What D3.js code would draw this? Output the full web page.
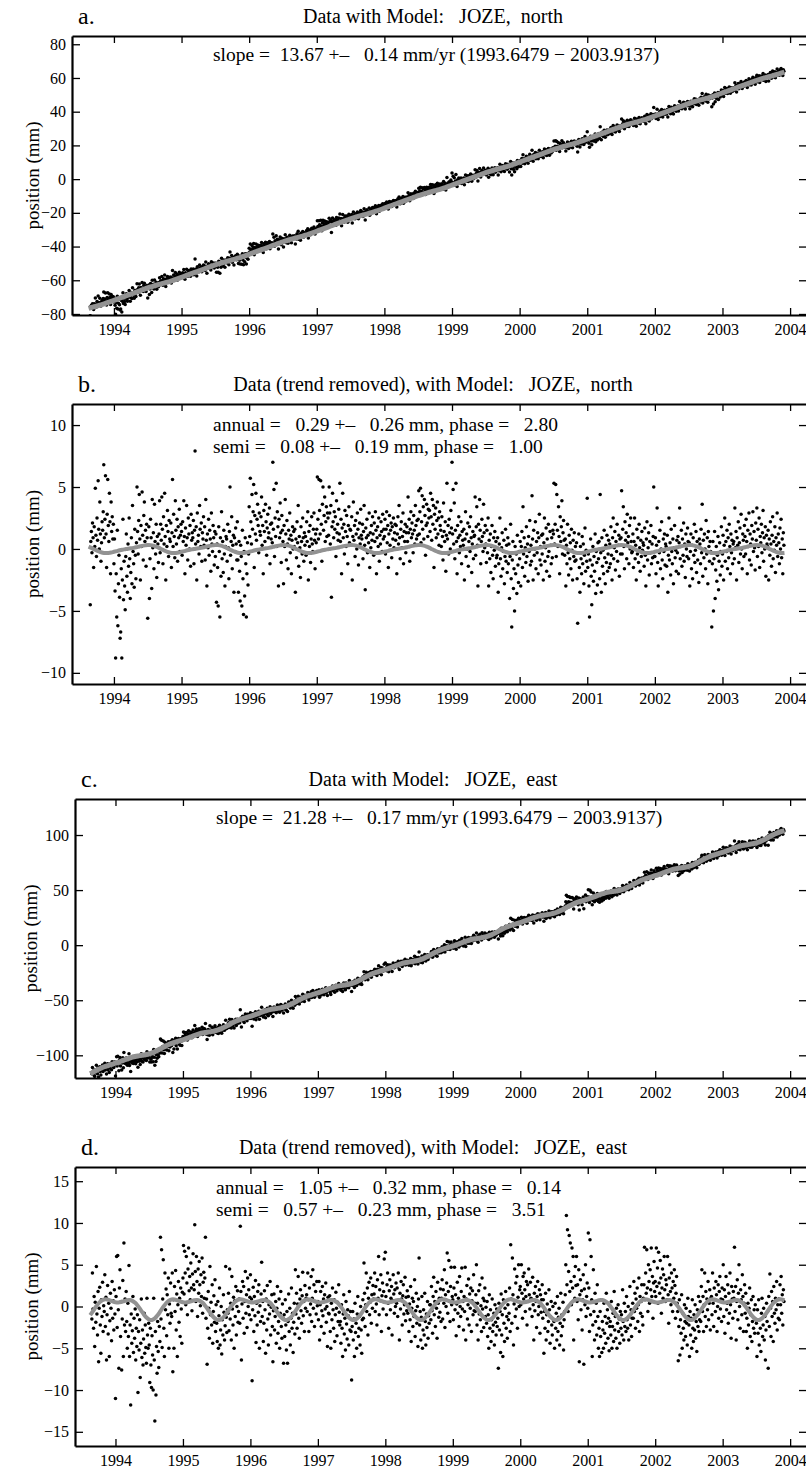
<!DOCTYPE html>
<html><head><meta charset="utf-8">
<script src="https://cdn.jsdelivr.net/npm/d3@7"></script>
<style>
body{margin:0;background:#fff}
svg{display:block}
text{font-family:"Liberation Serif","Times New Roman",Times,"DejaVu Serif",serif;fill:#000;white-space:pre}
</style>
</head><body>
<svg id="chart" width="806" height="1468"></svg>
<script>
// ---------------- DATA ----------------
const years = [1993,1994,1995,1996,1997,1998,1999,2000,2001,2002,2003];
const samplesPerYear = 120;          // residual samples ~3 days apart; first row ends at year end
const xTickYears = [1994,1995,1996,1997,1998,1999,2000,2001,2002,2003,2004];

// North residuals (mm), trend removed, one row per year
const northResid = [
 [-4.5,0.6,1.4,-0.3,2.1,0.9,-1.5,1.8,0.2,4.9,1.1,-0.6,2.5,0.7,5.5,1.6,0.0,3.8,1.2,-1.0,0.5,2.2,
  1.5,3.0,6.8,0.9,2.4,5.9,1.2,-1.5,2.8,5.6,1.9,0.6,4.5,2.2,-2.0,3.8,1.4,2.6,0.8,2.0],
 [-1.2,0.8,-3.4,-8.8,-2.0,-5.5,1.5,-6.2,-2.8,-0.5,-3.9,-7.2,-6.7,-1.6,-8.8,-2.5,2.4,-4.1,-1.0,-3.0,
  -4.9,-0.6,1.2,-2.2,-3.5,0.4,-1.4,2.5,-0.8,-4.0,-1.9,0.9,-2.8,3.5,-0.2,-1.2,-3.1,1.6,-0.5,-2.4,
  0.5,5.0,1.4,-0.4,2.3,4.4,0.8,-2.5,1.9,0.2,4.6,1.1,-0.9,2.7,3.8,0.6,1.5,-1.4,2.0,0.9,
  -5.6,0.3,1.8,-4.0,-0.8,2.4,0.9,-3.2,4.0,0.1,1.3,-1.6,3.6,0.6,-0.4,2.0,-2.3,1.0,0.4,-1.1,
  1.2,3.9,-0.3,2.0,0.7,4.2,1.6,-1.2,2.6,0.4,4.5,1.0,-2.5,1.9,0.2,3.1,1.4,-0.6,2.3,0.8,
  0.6,2.1,-1.5,1.3,5.6,0.2,2.8,1.0,-0.7,3.9,1.5,0.4,2.4,-1.0,1.8,0.9,3.2,-0.2,1.1,2.0],
 [1.4,-0.5,2.2,0.6,3.9,1.0,-2.0,1.7,0.3,3.5,0.9,-0.9,2.5,1.2,0.0,1.9,-1.4,2.8,0.7,1.3,
  0.9,2.3,-1.2,1.5,7.9,0.4,1.8,-2.5,2.9,0.6,1.1,-0.4,3.5,1.6,0.2,2.1,-1.0,1.3,0.8,2.6,
  0.3,1.8,-0.9,4.0,0.7,-3.0,1.2,0.1,2.4,-0.5,1.5,0.8,-1.8,2.9,0.4,-0.2,1.9,0.9,-1.3,1.4,
  -0.6,1.2,-4.3,0.4,-1.5,-4.6,1.8,-0.2,-5.5,0.9,-2.2,3.0,-0.8,0.6,-1.9,1.5,-0.4,-3.0,0.2,1.0,
  0.8,-1.0,2.0,0.1,-2.4,1.4,5.0,-0.5,0.6,2.6,-1.6,0.3,1.1,-3.5,0.9,-0.2,1.7,0.4,-0.9,2.2,
  -0.9,-3.5,0.6,-1.8,-4.2,0.3,-0.6,-4.6,1.5,-2.4,-5.3,-0.2,-3.8,0.9,-1.2,-5.5,-2.0,0.5,-2.9,-0.4],
 [3.4,1.0,5.7,2.2,0.4,4.4,1.6,3.0,5.2,-1.5,2.7,1.2,4.5,0.7,2.4,3.6,1.9,-0.3,2.9,1.4,
  1.1,2.6,4.2,0.3,1.9,-2.0,3.1,1.4,0.6,3.6,2.2,-0.5,1.7,2.8,0.9,1.3,3.3,-1.2,2.0,0.8,
  2.1,0.5,7.0,1.6,4.8,-0.6,2.5,1.0,5.3,0.2,3.0,1.8,-3.0,2.4,0.9,3.7,1.3,-1.1,2.7,1.5,
  0.6,-2.8,1.9,0.2,4.0,1.2,-0.9,2.3,0.4,-1.6,1.5,0.8,2.9,-0.3,1.1,-2.0,0.7,1.8,0.0,1.4,
  0.2,1.6,-3.5,0.8,-0.7,2.2,0.5,3.5,-1.4,1.0,0.1,-2.3,1.8,0.6,-0.4,2.5,0.9,-1.0,1.3,0.3,
  1.0,-0.5,2.2,0.6,3.0,-2.5,1.4,0.2,1.9,-1.1,0.8,2.6,0.4,-0.2,1.6,2.9,0.7,-1.6,1.2,0.5],
 [1.6,5.8,2.4,0.8,5.6,3.1,1.2,5.5,2.0,-1.0,3.6,5.0,1.5,2.7,4.2,0.6,2.2,3.4,1.0,2.9,
  2.5,1.1,5.0,2.9,0.4,3.5,-3.9,1.8,4.5,2.2,0.9,3.0,1.6,2.6,-0.6,3.9,1.3,2.0,0.7,3.2,
  1.2,5.3,0.6,2.4,-2.0,1.7,4.5,0.9,2.0,-0.4,3.1,1.4,0.2,2.7,1.0,-1.2,1.9,3.4,0.5,1.6,
  1.5,0.3,2.6,-2.5,1.0,3.8,0.7,1.9,-0.6,2.3,1.2,0.0,2.9,1.6,-1.3,0.9,2.1,0.4,3.2,1.1,
  0.8,2.0,-0.8,1.4,3.5,0.3,-3.3,1.7,0.9,2.4,-0.3,1.1,0.5,2.9,-1.5,1.3,0.1,1.9,0.7,2.6,
  1.2,-0.5,2.1,0.6,3.0,1.5,-2.0,0.9,1.8,0.2,2.5,-1.0,1.1,0.4,2.2,1.4,-0.2,2.8,0.8,1.6],
 [1.0,2.4,-0.4,1.6,3.0,0.5,1.9,-1.5,1.2,2.7,0.3,1.5,2.1,-0.7,1.8,0.8,2.5,0.1,1.3,2.0,
  0.7,1.9,-2.0,1.2,2.6,0.4,3.5,0.9,-0.8,1.6,2.2,0.1,1.0,2.9,-1.2,1.4,0.6,2.0,-0.3,1.3,
  1.8,0.6,4.2,1.3,2.4,-1.0,1.6,3.0,0.9,2.1,1.2,-0.3,2.7,1.5,0.4,3.5,1.9,0.8,2.3,1.1,
  2.4,4.7,1.2,3.0,4.9,0.5,2.2,4.3,1.6,3.4,0.8,4.0,2.7,-0.5,1.9,3.6,2.1,1.0,3.2,2.5,
  3.1,1.4,4.5,2.6,0.7,4.0,2.0,3.5,-1.5,2.8,1.6,3.3,0.9,2.3,3.8,1.2,2.5,0.3,3.0,1.9,
  1.5,0.2,2.6,1.0,-0.9,3.7,1.4,0.6,2.2,-1.8,1.1,5.3,0.8,1.9,-0.4,2.4,1.3,0.0,3.1,1.7],
 [7.0,1.2,4.8,0.4,3.7,-0.8,1.5,5.3,0.6,-2.0,1.9,0.9,2.6,-0.3,1.1,0.2,2.2,-1.2,1.4,0.7,
  0.3,1.6,-2.5,0.8,3.0,-0.6,1.2,0.0,2.1,-1.4,0.6,1.8,-0.2,2.6,0.9,-1.9,0.4,1.4,-0.8,1.0,
  1.1,4.2,-0.5,1.8,3.4,0.3,-3.0,2.0,0.8,4.0,1.5,-1.2,0.6,2.4,1.0,-0.2,3.6,1.3,0.1,1.9,
  0.4,-1.1,1.5,-0.3,2.5,-3.0,0.7,-0.8,1.2,-1.9,0.2,1.9,-0.5,-2.4,0.9,-0.1,1.4,-1.4,0.6,-0.7,
  -0.5,0.9,-3.5,-1.2,0.4,2.5,-0.8,-2.2,0.1,1.3,-1.6,-0.2,0.7,-2.8,-0.6,1.6,-1.0,0.3,-1.9,0.9,
  -1.2,0.4,-4.0,-0.6,2.0,-2.4,-6.3,-0.9,0.6,-3.2,-1.6,-5.0,0.2,-2.0,-0.4,-3.6,1.1,-1.3,-2.7,-0.2],
 [-0.8,0.6,-3.0,0.2,1.4,-1.5,3.4,-0.4,0.9,-2.2,0.1,-1.1,1.8,-0.6,0.4,-2.6,1.0,-0.2,2.3,-1.3,
  0.3,-1.0,4.3,0.8,-2.5,1.5,-0.5,0.0,2.2,-1.6,0.6,-0.3,1.3,-2.0,0.9,2.8,-0.9,0.2,-1.3,1.1,
  -0.4,1.2,-2.5,0.5,2.5,-1.0,0.1,1.7,-1.8,0.8,-0.6,2.0,-0.2,-2.2,1.4,0.3,-1.2,0.9,-0.7,1.5,
  1.2,5.3,0.4,2.0,5.2,-0.6,4.4,1.5,0.2,3.4,1.0,-2.0,2.6,0.6,1.8,3.9,-0.4,1.3,2.3,0.7,
  -0.5,0.8,-3.0,0.3,-1.2,2.0,-0.3,-2.1,1.1,-0.8,0.5,-1.6,1.6,-0.1,-2.5,0.7,-0.6,1.3,-1.0,0.2,
  -0.9,0.5,-2.4,-6.0,-0.3,1.2,-1.5,-3.5,0.2,-0.8,-2.0,1.0,-1.2,0.4,-2.8,-0.5,1.7,-1.8,-0.1,-1.0],
 [4.1,-1.5,-0.4,-3.0,-5.5,-0.9,0.8,-2.2,-4.5,-1.3,0.2,-2.6,-0.6,-1.8,1.2,-3.6,-0.2,-1.1,-2.9,0.5,
  -0.8,0.6,-2.4,4.4,-0.3,-3.5,0.9,-1.4,-0.1,-2.0,1.5,-0.7,-2.8,0.3,-1.1,1.1,-1.8,-0.4,0.7,-1.5,
  0.4,-1.2,1.8,-0.5,-2.5,0.9,2.5,-0.8,0.1,1.4,-1.7,0.6,-0.2,2.0,-1.0,0.3,1.1,-2.2,0.8,-0.4,
  0.9,4.7,-0.4,1.6,3.4,0.2,-1.6,2.2,0.7,1.3,-0.8,2.8,0.5,1.0,-1.2,1.9,0.0,2.5,0.6,-0.3,
  -0.2,1.2,-1.5,0.6,2.5,-0.8,0.3,-2.5,1.6,-0.4,0.9,-1.1,2.0,0.1,-1.8,0.7,-0.6,1.4,-0.1,0.5,
  0.3,-1.4,1.7,-0.5,-3.0,0.8,2.2,-0.9,0.1,1.3,-2.1,0.6,-0.3,1.9,-1.2,0.4,-0.7,1.0,5.0,-0.6],
 [-0.6,0.9,-2.0,0.3,3.3,-1.1,-3.0,0.6,-0.3,1.5,-1.6,0.0,2.2,-0.9,-2.4,0.8,-0.2,1.2,-1.3,0.4,
  0.2,-1.4,1.1,-3.5,-0.5,2.5,-0.9,0.5,-2.1,1.6,-0.2,-1.2,0.8,-2.8,0.1,1.9,-0.7,-0.1,-1.8,0.7,
  -0.3,1.0,-2.0,0.5,3.3,-0.8,0.2,1.5,-1.4,0.8,-0.5,2.1,-1.0,0.4,-2.3,1.2,0.0,-0.6,1.7,0.6,
  -0.8,0.5,-3.0,-0.2,1.2,-1.6,0.3,-2.4,0.9,-0.5,2.0,-1.1,-0.1,1.4,-1.9,0.6,-0.9,0.2,-2.7,0.8,
  0.4,-1.2,1.6,-0.3,3.6,-2.2,0.7,-0.7,1.2,0.0,-1.6,2.3,-0.4,0.9,-2.8,1.4,0.2,-1.0,0.6,-0.2,
  -0.3,-6.3,-1.2,0.6,-5.0,-0.8,1.4,-4.0,-1.7,0.2,-2.6,-0.5,1.0,-3.3,-1.0,0.5,-2.1,-0.2,1.8,-1.4],
 [-0.4,1.1,-2.5,0.3,2.5,-1.0,0.6,-0.2,1.5,-1.6,0.9,-0.7,2.0,0.2,-2.0,1.2,-0.3,0.7,-1.2,0.4,
  0.6,-0.8,3.3,0.1,1.4,-2.5,0.9,0.3,2.2,-1.1,0.5,1.7,-0.4,2.8,0.0,-1.6,1.2,0.7,-0.6,1.9,
  1.0,-0.4,2.4,0.6,-2.0,1.5,0.2,2.9,-0.9,1.2,0.4,-1.3,1.9,0.8,3.0,-0.2,1.4,0.1,-1.7,2.1,
  0.7,3.3,-0.6,1.6,0.2,2.5,-1.5,1.0,0.5,2.0,-0.3,1.3,3.1,-1.0,0.9,0.0,1.8,-2.2,1.1,0.4,
  0.2,1.5,-2.5,0.8,-0.5,2.2,0.4,-1.4,1.1,2.6,-0.8,0.6,-0.1,1.8,-1.9,0.9,0.3,2.9,-0.6,1.2,
  0.5,-1.2,1.7,0.0,2.4,-0.7,0.8,-2.0,1.3,0.3]
];

// East residuals (mm), trend removed, one row per year
const eastResid = [
 [-1.5,4.0,-0.3,-2.6,1.2,-4.8,0.5,-1.9,4.8,-0.9,-3.4,1.8,-6.6,-0.2,2.3,-2.2,-5.6,0.8,-1.2,2.9,-3.0,0.1,
  -0.6,3.8,-2.4,1.1,-6.4,-1.0,2.5,-3.3,0.4,-6.0,-1.7,1.6,-0.2,-4.1,3.0,-1.4,0.7,-2.8,2.0,-0.9],
 [-11.0,1.2,6.0,-2.5,6.1,-0.4,-7.4,2.2,4.4,-3.6,0.6,-7.6,-1.5,3.1,-6.0,7.6,-2.2,0.9,-3.0,1.8,
  -1.8,-5.0,0.4,-3.6,4.9,-6.0,-2.2,-11.8,-0.9,-4.4,-2.9,1.2,-5.5,-1.4,-3.8,-0.3,-6.4,-2.6,-4.8,-1.0,
  -10.3,-3.0,-5.2,-1.6,-8.5,-4.4,0.9,-6.1,-2.8,-7.0,-3.9,-0.8,-5.6,-2.2,-4.9,-6.8,1.0,-3.4,-5.0,-2.0,
  -4.6,-9.1,-2.6,-7.0,-9.7,-3.5,-5.8,-10.0,1.0,-6.4,-13.7,-3.0,-10.6,-4.8,-8.0,-1.8,-5.4,-7.3,-2.4,-4.2,
  8.3,-1.5,6.8,-4.9,0.9,5.6,-2.6,-6.0,4.0,-0.4,2.1,-3.5,1.4,-1.0,3.4,-5.0,0.3,-2.0,2.8,-0.8,
  -1.2,4.0,-7.8,0.8,-5.0,2.4,-0.6,4.3,-2.8,1.5,-6.0,0.2,3.0,-1.9,1.0,-3.6,2.2,-0.3,-4.4,1.7],
 [3.4,7.3,1.5,6.6,4.0,0.2,6.0,2.8,-1.0,4.5,7.0,1.9,3.6,0.8,5.2,2.2,-0.5,3.9,6.3,2.6,
  2.0,9.8,4.2,0.6,6.0,3.0,-1.2,4.5,1.6,5.4,2.6,0.1,3.8,1.2,5.8,-0.8,2.9,4.1,1.0,3.4,
  8.3,-1.4,0.9,-6.9,-2.6,1.8,-0.2,-3.8,4.8,-1.0,0.5,-2.2,2.6,-4.4,-0.6,1.3,-1.9,3.2,-3.0,0.2,
  -2.0,-4.2,0.6,-5.0,-1.1,2.2,-4.6,-2.8,0.0,-5.7,-1.6,-3.4,1.4,-0.7,-4.0,-2.3,4.8,-1.3,-3.1,-0.4,
  -0.8,1.6,-2.9,4.5,-1.5,0.4,-4.0,3.6,-0.3,-2.2,1.1,-5.0,0.7,-1.2,2.4,-3.4,0.0,1.9,-1.9,-0.6,
  0.9,-2.0,9.6,1.8,-6.4,0.3,3.0,-1.4,2.4,-3.2,0.6,4.2,-0.8,1.4,-2.5,3.4,0.0,2.0,-1.0,1.1],
 [3.8,-1.6,0.9,-8.9,-0.4,2.3,-3.0,1.2,-1.1,3.1,-4.3,0.4,-2.2,1.8,-0.7,2.6,-5.0,0.1,-1.8,1.5,
  5.3,-1.2,0.6,-4.2,-2.0,1.9,-0.4,-5.6,0.9,-2.8,2.5,-1.5,-4.6,0.2,-0.9,3.0,-3.4,-0.1,1.4,-2.4,
  -6.6,-0.5,1.5,-2.8,-1.2,0.6,-4.4,-0.2,2.4,-3.2,-1.8,0.9,-5.0,-0.8,1.8,-2.4,-3.8,0.3,-1.4,-6.8,
  -1.0,-3.6,0.8,-2.2,-5.2,-0.6,-6.8,-1.8,1.5,-3.0,-0.2,-4.6,-1.4,2.2,-2.6,-0.8,-5.5,-1.9,0.4,-3.3,
  4.4,-0.9,1.6,-2.6,0.3,3.6,-1.4,-3.8,0.9,2.0,-0.5,-2.0,1.3,4.1,-1.1,0.6,-3.0,2.5,-0.2,1.0,
  1.4,-0.6,4.0,0.8,-3.0,2.2,-1.0,0.3,3.6,-1.8,1.0,4.4,-0.2,2.6,-2.4,0.6,1.8,-0.9,3.0,0.1],
 [0.6,-1.6,3.0,-4.0,0.2,1.8,-2.4,-0.5,2.4,-1.1,0.9,-3.2,1.4,-0.3,2.8,-1.9,0.0,-4.8,1.1,-0.8,
  -0.9,1.3,-3.0,-5.0,0.4,-1.6,2.2,-0.4,-2.6,0.8,-4.2,-1.0,1.7,-0.2,-3.5,0.5,-1.8,2.6,-0.7,-2.2,
  -1.8,-4.4,0.2,-2.6,-6.0,-0.9,1.4,-3.3,-1.4,-5.2,0.6,-2.1,-3.9,-0.4,-1.1,-4.6,1.8,-2.8,-0.6,-3.0,
  -8.8,-2.4,-0.6,-4.0,-1.5,-6.0,0.4,-3.1,-2.0,-5.0,-0.9,1.2,-3.6,-2.6,-1.2,-4.6,0.0,-2.8,-5.6,-1.6,
  0.8,-1.4,5.2,1.6,-2.4,0.2,4.0,-0.6,2.2,-3.4,1.0,2.9,-1.0,0.5,3.4,-2.0,1.4,-0.2,2.5,0.9,
  1.5,4.0,-0.6,2.4,0.3,-2.2,3.2,1.0,6.0,-1.0,2.0,0.7,3.8,-3.0,1.3,2.8,-0.3,1.8,5.7,0.5],
 [6.5,1.2,-1.0,2.6,4.0,0.4,-2.6,1.9,3.2,-0.4,1.0,2.4,-3.4,0.7,3.8,1.5,-0.8,2.0,0.0,2.8,
  0.4,2.2,-1.2,4.0,0.8,-4.0,1.6,-0.3,3.0,0.9,-2.2,1.3,2.6,-0.9,0.2,3.5,-1.7,1.1,-0.5,1.9,
  -0.8,1.2,-3.0,0.3,-1.6,2.4,-4.2,-0.2,1.0,-2.4,0.6,-1.2,3.2,-3.6,-0.5,1.6,-2.0,0.0,-4.8,0.9,
  5.8,-2.2,-0.6,-4.0,-1.3,1.2,-5.0,-2.8,-0.4,-3.4,1.6,-1.8,-4.6,-0.9,-2.5,0.6,-3.8,-1.1,-2.0,0.2,
  0.2,-1.6,2.4,-0.5,-3.2,1.2,3.5,-1.0,0.6,-2.4,1.8,-0.2,-3.8,2.9,0.4,-1.3,1.0,-0.7,2.1,-1.8,
  1.0,3.2,-1.5,2.0,0.4,4.4,-2.5,1.4,0.0,2.8,6.4,-0.8,1.8,5.5,0.6,-1.8,2.4,4.7,0.2,1.2],
 [0.8,-1.6,2.2,4.7,-0.4,1.4,-3.5,0.3,2.9,-0.8,1.0,-2.4,3.6,0.0,-1.2,1.8,4.6,-0.3,0.6,-2.8,
  1.2,-0.6,4.7,-4.0,0.9,2.5,-1.5,0.2,3.3,-2.2,1.5,-0.2,2.2,-3.0,0.7,1.9,-1.0,3.8,-0.5,0.4,
  -0.6,1.4,5.0,-2.2,0.4,-4.0,1.9,-0.9,2.6,-1.6,0.1,-3.0,3.4,-0.3,1.0,-2.5,0.7,2.2,-1.2,-0.1,
  -2.0,0.6,-3.6,-1.0,-5.0,1.4,-2.6,-0.4,-4.2,-1.6,0.9,-3.0,-2.2,-0.8,-4.6,0.2,-1.9,-3.4,-0.3,-2.4,
  -1.4,-7.4,0.4,-2.8,-0.6,-5.5,1.5,-3.4,-1.0,-6.0,0.8,-2.0,-4.2,-0.2,1.8,-2.6,-1.2,-3.8,0.2,-1.6,
  -0.8,2.2,-3.0,7.4,0.9,-2.0,5.8,1.4,-4.6,0.3,4.5,-1.2,2.8,-0.3,3.6,-2.6,1.1,5.0,0.0,2.0],
 [2.4,0.2,5.0,1.6,-1.4,3.6,0.9,4.0,2.0,-0.6,1.2,3.0,-2.2,2.6,0.6,4.5,1.4,-0.3,2.9,1.0,
  0.9,-1.2,3.5,0.2,-4.0,1.6,-0.5,2.4,0.6,-2.5,1.2,3.0,-1.0,0.0,2.0,-3.2,1.4,-0.7,0.8,2.6,
  -1.4,0.8,-5.6,-0.6,-2.6,1.6,-4.0,-1.0,0.3,-3.0,-1.8,2.0,-0.4,-4.4,-1.2,0.6,-2.2,-3.4,0.0,-1.6,
  -1.8,-5.0,0.4,-2.6,-0.8,-4.0,1.2,-3.0,-1.3,-0.2,-4.6,-2.0,1.6,-3.5,-1.0,-2.4,0.5,-5.2,-1.6,-0.6,
  1.4,5.0,10.9,2.6,9.2,-0.6,4.2,8.5,1.8,7.6,3.0,0.2,7.0,2.2,6.0,-4.0,3.6,1.0,4.8,2.5,
  6.0,0.6,2.6,-1.6,4.4,-6.6,1.4,3.2,-0.4,1.9,-2.8,0.8,3.8,-6.9,2.1,0.2,5.0,-1.2,1.2,2.8],
 [-0.2,8.8,2.2,-3.0,8.0,-1.0,6.0,0.8,-6.0,-2.2,4.4,-0.6,-4.0,1.6,-1.8,0.4,-3.4,2.6,-1.2,-5.0,
  -2.6,-6.0,-0.6,-3.6,0.8,-5.5,-1.8,-2.8,-5.0,0.4,-3.2,-1.2,-4.4,1.6,-2.0,-0.4,-3.8,-1.4,-5.3,-2.4,
  -1.8,-3.4,0.6,-5.0,-2.4,-0.8,-4.2,1.8,-2.8,-1.2,-3.8,-0.2,-5.0,-2.0,0.2,-3.0,-1.5,-4.4,-0.6,-2.6,
  -1.0,-3.4,2.0,-1.8,-4.0,0.4,-2.4,-0.6,-3.0,1.2,-1.6,-2.6,0.0,-4.0,-1.2,2.4,-2.2,-0.4,-3.6,-1.4,
  0.4,-1.4,3.0,-0.6,1.6,-2.6,0.9,-0.2,2.2,-1.8,0.2,3.4,-3.0,1.2,-0.8,0.6,2.6,-1.2,-2.2,1.0,
  2.6,7.1,0.8,4.0,1.6,6.8,2.2,-0.6,5.0,3.0,0.4,4.4,2.0,7.0,1.2,3.6,-1.4,2.8,5.4,1.8],
 [3.0,1.2,7.0,2.4,4.6,0.4,6.5,2.8,1.6,5.5,3.4,-0.8,2.2,4.5,1.0,3.8,6.0,2.0,0.6,3.2,
  2.6,0.8,6.0,1.4,-2.0,3.4,5.0,1.8,0.2,4.0,2.2,-0.6,3.0,1.0,4.4,2.5,-1.4,1.6,3.6,0.4,
  -0.6,-6.5,-2.4,0.8,-5.8,-1.6,-3.2,1.4,-5.0,-0.8,-2.6,-4.0,0.2,-1.8,-3.6,-0.2,-2.0,-4.6,1.0,-1.2,
  -2.2,-6.0,-0.6,-3.4,-1.4,-5.0,0.8,-2.6,-4.2,-1.0,-2.8,0.2,-3.8,-1.8,-5.4,-0.4,-2.4,1.2,-3.0,-1.6,
  0.6,-1.8,2.4,4.4,-0.6,1.2,-3.0,0.2,4.0,-1.2,1.8,-2.4,0.9,-0.4,3.0,-1.6,0.4,2.0,-2.8,1.0,
  1.2,-1.0,4.0,0.4,-2.4,2.2,0.8,-0.6,3.0,1.4,-3.0,0.0,2.6,-1.4,1.8,3.6,-0.3,0.9,-1.8,2.2],
 [0.8,5.0,-1.2,2.0,-3.2,1.2,3.6,-0.4,0.4,2.6,-2.0,1.6,-0.8,4.0,0.2,-3.8,2.4,0.9,-1.4,1.8,
  1.0,7.1,-0.6,2.4,-4.0,0.6,3.2,-1.6,1.6,5.0,0.0,-2.6,2.0,0.8,-1.0,3.8,1.2,-3.0,0.4,2.6,
  -0.8,1.6,-3.0,-1.4,-5.0,0.4,-2.2,-0.2,2.2,-3.6,-1.0,0.8,-4.2,-1.8,1.2,-2.6,-0.4,-3.2,0.2,-1.6,
  -2.0,-6.0,-0.4,-3.2,0.8,-4.6,-1.6,-2.6,-5.4,-0.8,1.0,-3.6,-2.2,-0.2,-4.0,-1.2,-6.4,-2.8,0.4,-1.8,
  -0.6,-7.4,1.2,-2.4,3.9,-0.2,-3.6,1.8,-1.2,0.6,-4.2,2.4,-0.8,-2.0,1.0,-0.4,3.0,-2.8,0.2,-1.4,
  0.9,-1.6,2.6,0.2,3.6,-0.8,1.4,-2.2,2.0,0.6]
];

// Seasonal model, one annual cycle sampled every half month (mm)
const northSeasonal = [-0.23,-0.17,-0.11,-0.06,-0.02,0.02,0.05,0.09,0.14,0.20,0.25,0.29,0.32,0.31,0.27,0.19,0.09,-0.03,-0.14,-0.24,-0.30,-0.33,-0.32,-0.29];
const eastSeasonal  = [0.51,0.48,0.53,0.63,0.74,0.77,0.68,0.44,0.05,-0.43,-0.91,-1.32,-1.57,-1.61,-1.42,-1.04,-0.56,-0.05,0.39,0.69,0.84,0.84,0.74,0.61];

// Linear trends
const tStart = 1993.6479, tEnd = 2003.9137;
const northSlope = 13.67, northAtStart = -76.5;
const eastSlope = 21.28, eastAtStart = -115.2;

// Tick values
const yTicksA = [-80,-60,-40,-20,0,20,40,60,80];
const yTicksB = [-10,-5,0,5,10];
const yTicksC = [-100,-50,0,50,100];
const yTicksD = [-15,-10,-5,0,5,10,15];

// Text
const titles = ["Data with Model:   JOZE,  north",
                "Data (trend removed), with Model:   JOZE,  north",
                "Data with Model:   JOZE,  east",
                "Data (trend removed), with Model:   JOZE,  east"];
const letters = ["a.","b.","c.","d."];
const notes = [
 ["slope =  13.67 +–   0.14 mm/yr (1993.6479 − 2003.9137)"],
 ["annual =   0.29 +–   0.26 mm, phase =   2.80","semi =   0.08 +–   0.19 mm, phase =   1.00"],
 ["slope =  21.28 +–   0.17 mm/yr (1993.6479 − 2003.9137)"],
 ["annual =   1.05 +–   0.32 mm, phase =   0.14","semi =   0.57 +–   0.23 mm, phase =   3.51"]
];

// ---------------- BUILD SERIES ----------------
function residPoints(rows){
  const pts=[];
  rows.forEach((row,i)=>{
    const k0 = i===0 ? samplesPerYear-row.length : 0;
    row.forEach((v,j)=>pts.push({t:years[i]+(k0+j)/samplesPerYear, v}));
  });
  return pts;
}
function seasonalPoints(cycle){
  const pts=[];
  years.concat([2004]).forEach(y=>cycle.forEach((v,k)=>{
    const t=y+k/cycle.length; if(t>=tStart-0.03&&t<=tEnd+0.03) pts.push({t,v});
  }));
  return pts;
}
const northR = residPoints(northResid), eastR = residPoints(eastResid);
const northS = seasonalPoints(northSeasonal), eastS = seasonalPoints(eastSeasonal);
const trendN = t=>northAtStart+northSlope*(t-tStart);
const trendE = t=>eastAtStart+eastSlope*(t-tStart);

const panels = [
 {L:72,T:36,B:315,xd:[1993.38,2004.25],yd:[-80.6,84.9],yt:yTicksA,lab:33,
  pts:northR.map(d=>({t:d.t,v:trendN(d.t)+d.v})), model:northS.map(d=>({t:d.t,v:trendN(d.t)+d.v})), lw:5},
 {L:72,T:404,B:684,xd:[1993.38,2004.25],yd:[-10.9,11.7],yt:yTicksB,lab:33, pts:northR, model:northS, lw:4},
 {L:75,T:799,B:1078,xd:[1993.4,2004.25],yd:[-120.6,132.7],yt:yTicksC,lab:38,
  pts:eastR.map(d=>({t:d.t,v:trendE(d.t)+d.v})), model:eastS.map(d=>({t:d.t,v:trendE(d.t)+d.v})), lw:5},
 {L:75,T:1167,B:1446,xd:[1993.4,2004.25],yd:[-16.7,16.7],yt:yTicksD,lab:37, pts:eastR, model:eastS, lw:4}
];

// ---------------- DRAW ----------------
const svg=d3.select("#chart");
const R=807;
panels.forEach((p,i)=>{
  const x=d3.scaleLinear().domain(p.xd).range([p.L,R]);
  const y=d3.scaleLinear().domain(p.yd).range([p.B,p.T]);
  const g=svg.append("g");
  const clipId="clip"+i;
  g.append("clipPath").attr("id",clipId).append("rect")
    .attr("x",p.L).attr("y",p.T).attr("width",R-p.L).attr("height",p.B-p.T);
  const plot=g.append("g").attr("clip-path",`url(#${clipId})`);
  plot.append("g").selectAll("circle").data(p.pts).join("circle")
    .attr("cx",d=>x(d.t)).attr("cy",d=>y(d.v)).attr("r",1.75).attr("fill","#000");
  plot.append("path").datum(p.model)
    .attr("d",d3.line().x(d=>x(d.t)).y(d=>y(d.v)).curve(d3.curveCatmullRom))
    .attr("fill","none").attr("stroke","#929292").attr("stroke-width",p.lw).attr("stroke-linejoin","round");

  // axes
  const xb=g.append("g").attr("transform",`translate(0,${p.B})`)
    .call(d3.axisBottom(x).tickValues(xTickYears).tickFormat(d3.format("d")).tickSizeInner(-7).tickSizeOuter(0).tickPadding(9));
  const xt=g.append("g").attr("transform",`translate(0,${p.T})`)
    .call(d3.axisTop(x).tickValues(xTickYears).tickFormat("").tickSizeInner(-7).tickSizeOuter(0));
  const yl=g.append("g").attr("transform",`translate(${p.L},0)`)
    .call(d3.axisLeft(y).tickValues(p.yt).tickFormat(d=>d<0?"−"+Math.abs(d):d).tickSizeInner(-8).tickSizeOuter(0).tickPadding(6));
  const yr=g.append("g").attr("transform",`translate(${R},0)`)
    .call(d3.axisRight(y).tickValues(p.yt).tickFormat("").tickSizeInner(-8).tickSizeOuter(0));
  [xb,xt,yl,yr].forEach(a=>{
    a.attr("font-family",null);
    a.selectAll(".domain").attr("stroke","#000").attr("stroke-width",2.2);
    a.selectAll(".tick line").attr("stroke","#000").attr("stroke-width",1.3);
    a.selectAll("text").style("font-size","16px").attr("fill","#000");
  });

  // y label
  g.append("text").attr("transform",`translate(${p.L-p.lab},${(p.T+p.B)/2}) rotate(-90)`)
    .attr("text-anchor","middle").style("font-size","19px").text("position (mm)");
  // letter and title
  g.append("text").attr("x",p.L+6).attr("y",p.T-12).style("font-size","24px").text(letters[i]);
  g.append("text").attr("x",433).attr("y",p.T-13).attr("text-anchor","middle").style("font-size","20px").text(titles[i]);
  notes[i].forEach((s,j)=>{
    g.append("text").attr("x",p.L+141).attr("y",p.T+(notes[i].length===1?25:27+j*22)).style("font-size","19.5px").text(s);
  });
});
</script>
</body></html>
